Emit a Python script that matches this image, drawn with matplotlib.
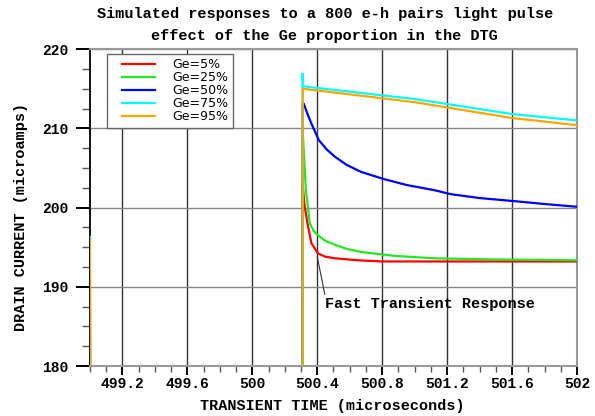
import matplotlib
matplotlib.use("Agg")
import matplotlib.pyplot as plt
from matplotlib.ticker import MultipleLocator, FixedLocator
from matplotlib.legend_handler import HandlerLine2D

# --- data (time in microseconds, current in microamps)
labels = ["Ge=5%", "Ge=25%", "Ge=50%", "Ge=75%", "Ge=95%"]
colors = ["#ff0000", "#22e822", "#0000ff", "#00ffff", "#ffa500"]

t_ge5 = [499.0, 499.002, 500.31, 500.31, 500.32, 500.34, 500.364, 500.405, 500.45,
         500.51, 500.65, 500.8, 501.2, 502.0]
i_ge5 = [196.0, 170.0, 170.0, 203.0, 200.5, 198.0, 195.5, 194.2, 193.8,
         193.6, 193.35, 193.2, 193.2, 193.2]

t_ge25 = [499.0, 499.002, 500.31, 500.31, 500.33, 500.354, 500.38, 500.405, 500.45,
          500.51, 500.58, 500.67, 500.88, 501.12, 501.5, 502.0]
i_ge25 = [196.0, 170.0, 170.0, 209.8, 202.2, 198.0, 197.0, 196.5, 195.8,
          195.3, 194.8, 194.4, 193.9, 193.6, 193.45, 193.35]

t_ge50 = [499.0, 499.002, 500.31, 500.31, 500.317, 500.34, 500.364, 500.41, 500.46,
          500.51, 500.58, 500.67, 500.81, 500.95, 501.12, 501.22, 501.4, 501.62,
          501.8, 502.0]
i_ge50 = [196.0, 170.0, 170.0, 213.1, 213.1, 211.8, 210.6, 208.5, 207.3,
          206.4, 205.4, 204.5, 203.6, 202.85, 202.2, 201.7, 201.2, 200.8,
          200.45, 200.1]

t_ge75 = [499.0, 499.002, 500.31, 500.31, 500.312, 501.0, 501.6, 502.0]
i_ge75 = [196.3, 170.0, 170.0, 216.9, 215.3, 213.7, 211.8, 211.0]

t_ge95 = [499.0, 499.002, 500.31, 500.31, 501.0, 501.6, 502.0]
i_ge95 = [196.0, 170.0, 170.0, 215.0, 213.3, 211.3, 210.4]

series_t = [t_ge5, t_ge25, t_ge50, t_ge75, t_ge95]
series_i = [i_ge5, i_ge25, i_ge50, i_ge75, i_ge95]

x_major = [499.2, 499.6, 500.0, 500.4, 500.8, 501.2, 501.6, 502.0]
x_labels = ["499.2", "499.6", "500", "500.4", "500.8", "501.2", "501.6", "502"]
y_major = [180, 190, 200, 210, 220]

mono = "Liberation Mono"

fig = plt.figure(figsize=(5.95, 4.16), dpi=100)
ax = fig.add_axes([0.151, 0.120, 0.819, 0.762])

lines = []
for t, i, c, lab in zip(series_t, series_i, colors, labels):
    ln, = ax.plot(t, i, color=c, lw=1.6, label=lab, solid_joinstyle="round", zorder=3)
    lines.append(ln)

ax.set_xlim(499.0, 502.0)
ax.set_ylim(180, 220)

# grid: dark verticals, lighter horizontals
for xv in x_major:
    ax.axvline(xv, color="#333333", lw=1.0, zorder=0)
for yv in y_major:
    ax.axhline(yv, color="#888888", lw=1.0, zorder=0)

ax.xaxis.set_major_locator(FixedLocator(x_major))
ax.set_xticklabels(x_labels)
ax.xaxis.set_minor_locator(MultipleLocator(0.1))
ax.yaxis.set_major_locator(FixedLocator(y_major))
ax.yaxis.set_minor_locator(MultipleLocator(2.5))
ax.tick_params(axis="x", which="major", direction="out", length=6.5, width=1.4,
               color="black", labelsize=10.5, pad=1.5)
ax.tick_params(axis="x", which="minor", direction="out", length=4.3, width=1.0,
               color="#555555")
ax.tick_params(axis="y", which="major", direction="out", length=10, width=1.4,
               color="black", labelsize=10.5, pad=5.5)
ax.tick_params(axis="y", which="minor", direction="out", length=5.8, width=1.0,
               color="#555555")
for lbl in ax.get_xticklabels() + ax.get_yticklabels():
    lbl.set_fontfamily(mono)
    lbl.set_fontweight("bold")

ax.spines["left"].set_color("black")
ax.spines["left"].set_linewidth(1.3)
for side in ["top", "right", "bottom"]:
    ax.spines[side].set_color("#999999")
    ax.spines[side].set_linewidth(1.5)

ax.set_xlabel("TRANSIENT TIME (microseconds)", fontfamily=mono, fontweight="bold",
              fontsize=10.9)
ax.xaxis.set_label_coords(0.497, -0.105)
ax.set_ylabel("DRAIN CURRENT (microamps)", fontfamily=mono, fontweight="bold",
              fontsize=10.9)
ax.yaxis.set_label_coords(-0.127, 0.472)

fig.text(0.546, 0.966, "Simulated responses to a 800 e-h pairs light pulse",
         fontfamily=mono, fontweight="bold", fontsize=11, ha="center", va="center")
fig.text(0.546, 0.914, "effect of the Ge proportion in the DTG",
         fontfamily=mono, fontweight="bold", fontsize=11, ha="center", va="center")

ax.annotate("Fast Transient Response", xy=(500.4, 193.8), xytext=(500.45, 187.8),
            fontfamily=mono, fontweight="bold", fontsize=11, va="center",
            arrowprops=dict(arrowstyle="-", color="#333333", lw=0.8, shrinkA=0,
                            shrinkB=0, relpos=(0.0, 1.0)))

# legend: short line handles set in from the frame edge
handler = HandlerLine2D(xpad=0.84)
leg = ax.legend(handles=lines, loc="upper left", bbox_to_anchor=(0.035, 0.985),
                fontsize=9, fancybox=False, edgecolor="#666666", framealpha=1,
                handlelength=3.5, handletextpad=1.36, labelspacing=0.0,
                borderpad=0.36, borderaxespad=0,
                handler_map={ln: handler for ln in lines})
leg.get_frame().set_linewidth(1.0)

fig.savefig("out.png", dpi=100, facecolor="white")
